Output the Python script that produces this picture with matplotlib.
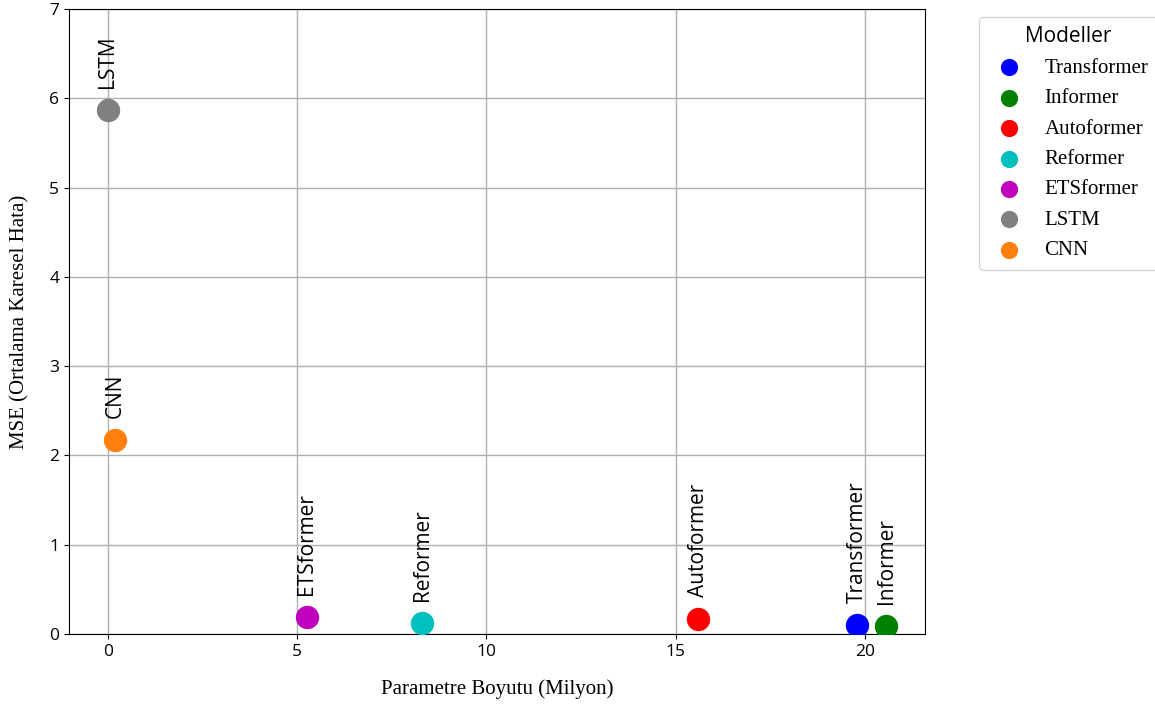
import matplotlib
matplotlib.use("Agg")
import matplotlib.pyplot as plt

models = ["Transformer", "Informer", "Autoformer", "Reformer", "ETSformer", "LSTM", "CNN"]
params_m = [19.8, 20.56, 15.6, 8.3, 5.26, 0.0, 0.19]
mse = [0.10, 0.09, 0.17, 0.12, 0.19, 5.87, 2.17]
colors = ["#0000ff", "#008000", "#ff0000", "#00bfbf", "#bf00bf", "#808080", "#ff7f0e"]

plt.rcParams['font.family'] = ['Open Sans', 'DejaVu Sans']

fig = plt.figure(figsize=(11.55, 7.08), dpi=100)
ax = fig.add_axes([69/1155, 1 - 634/708, (925-69)/1155, (634-9)/708])

for m, x, y, c in zip(models, params_m, mse, colors):
    ax.scatter(x, y, s=250, color=c, label=m, zorder=3)
    ax.annotate(m, (x, y), xytext=(0, 16), textcoords="offset points",
                rotation=90, ha="center", va="bottom", fontsize=15)

ax.set_ylim(0, 7)
ax.grid(True, color="#b0b0b0", linewidth=1)
ax.set_axisbelow(True)
ax.tick_params(labelsize=12.5)
ax.set_xlabel("Parametre Boyutu (Milyon)", family="Liberation Serif", fontsize=15, labelpad=14)
ax.set_ylabel("MSE (Ortalama Karesel Hata)", family="Liberation Serif", fontsize=15, labelpad=14)

leg = ax.legend(title="Modeller", loc="upper left", bbox_to_anchor=(1.063, 1 - 8/625),
                borderaxespad=0,
                prop={"family": "Liberation Serif", "size": 15},
                title_fontproperties={"family": "Open Sans", "size": 15},
                markerscale=0.72, labelspacing=0.52, handletextpad=0.7,
                borderpad=0.45)

fig.savefig("out.png", dpi=100)
